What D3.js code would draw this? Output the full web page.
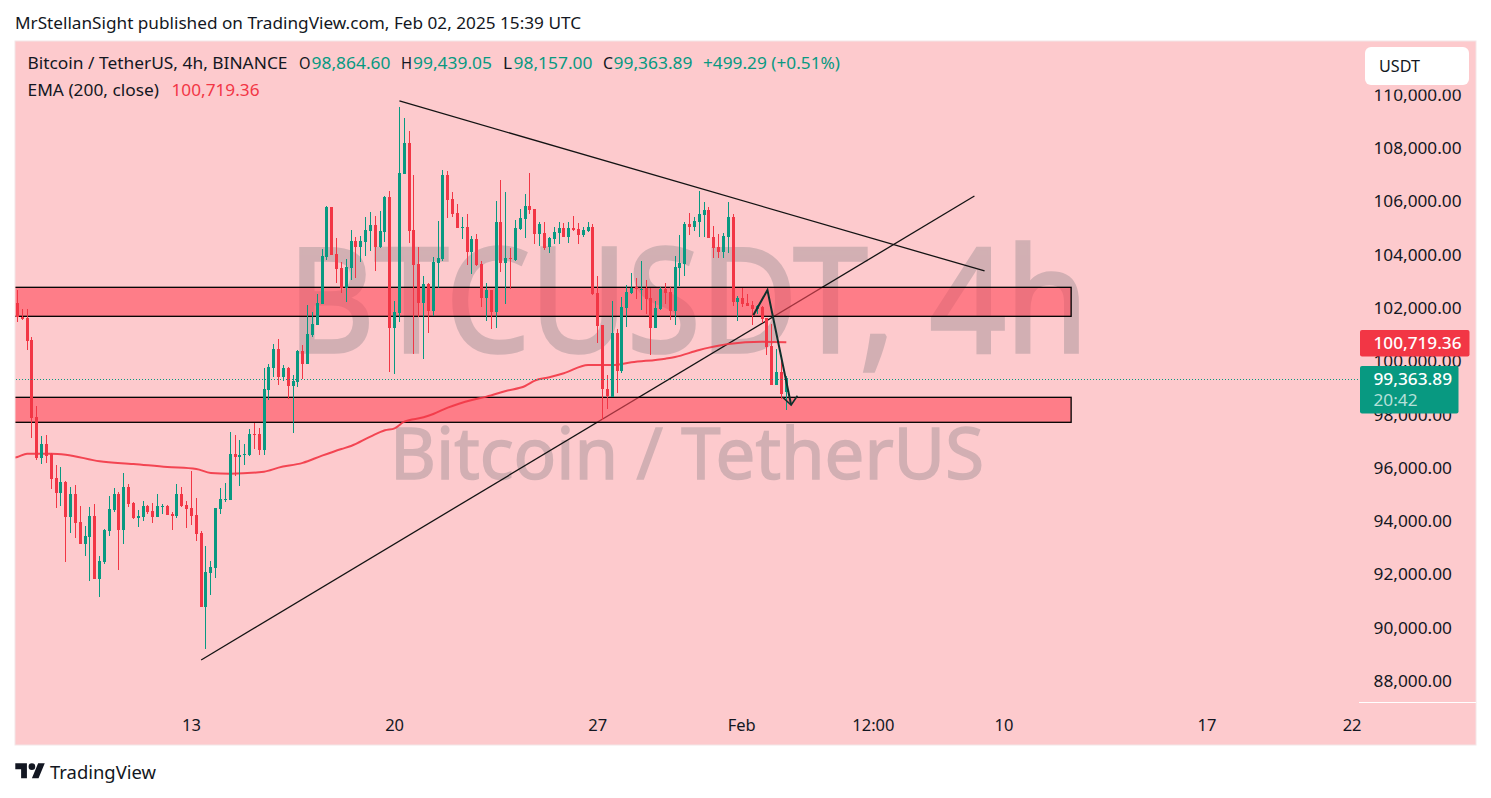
<!DOCTYPE html>
<html><head><meta charset="utf-8">
<script src="https://cdn.jsdelivr.net/npm/d3@7/dist/d3.min.js"></script>
<style>html,body{margin:0;padding:0;background:#fff;overflow:hidden}svg{display:block}text{font-family:"Noto Sans",sans-serif}</style>
</head><body><svg id="c" width="1491" height="798"></svg>
<script>
// ---- data ----
const startDate = "2025-01-07T00:00:00Z", lastDate = "2025-02-02T12:00:00Z";
const opens = [102204,101654,101641,100803,97912,96373,96911,96523,95622,95059,
95485,94158,95022,93971,93145,93407,94196,91831,92469,93633,
94421,95022,93670,95284,94684,94121,94158,94571,94383,94158,
94534,94571,94271,94196,95022,94609,94496,94233,93558,90780,
92056,92244,94459,94796,94796,96523,96411,96486,96486,97274,
97274,96673,98926,99752,100465,99414,99752,99076,99226,100390,
99902,100991,101366,102154,103919,105796,104031,103506,102755,103506,
104519,104294,104482,104895,105120,104294,104857,106171,101253,101817,
107034,108198,104932,103656,102192,102905,101892,103693,103844,106997,
106096,105570,105007,105045,104106,104594,103656,102380,102680,101854,
105233,103693,103881,103806,104970,105345,105833,105720,104782,104819,
104294,104594,104819,105007,104669,105007,104970,104744,104894,105045,
102567,101366,98981,98663,101065,99639,102004,102567,102780,102680,
102755,102379,101253,101966,102717,102605,101891,103506,103656,105157,
105045,105232,105495,105683,104669,104294,104106,104669,105420,102229,
102379,102192,102117,101966,102042,101628,100577,99113,99601,98864.6];
const highs = [102680,101966,101966,100903,98325,97199,97236,96573,96110,96035,
95510,95284,95359,94571,93820,94534,94646,92694,93708,94946,
95247,95097,95810,95397,94721,94421,94759,94609,94684,95022,
94646,94600,94346,95397,95284,94759,95885,94871,93633,93069,
92507,94496,95247,95434,97349,97236,97049,96899,97462,97687,
97499,99752,99902,100653,100840,99864,99789,99489,100420,100615,
102117,101854,102530,104219,105833,105810,104632,103731,103844,104932,
104669,104707,105420,105608,105458,105645,106190,106396,102267,109550,
109137,108649,106997,104294,103205,102943,103919,105270,107185,107147,
106359,105908,105420,105533,104707,104782,103768,102943,102690,106021,
106809,106359,104256,105308,105720,106284,107072,105720,105232,105232,
104669,105045,105232,105195,105232,105458,105195,105045,105232,105157,
103205,101380,99489,102267,101216,102417,102867,103318,103130,103768,
103055,102755,102267,102792,102942,102792,103956,104744,105232,105570,
105420,106396,105983,105795,105100,104782,104819,105983,105533,102454,
102755,102530,102267,102117,102079,101640,101403,100465,100052,99439.05];
const lows = [101491,101553,100427,97136,96298,96160,96198,95209,94496,94571,
92469,93570,93370,93130,92694,91756,91820,91155,92394,93445,
94346,92169,93145,94534,94083,93783,94008,94271,93933,94150,
94271,94220,93670,94121,94534,93745,93858,93257,90770,89203,
91230,91868,94271,94721,94780,95697,95322,96110,96448,96711,
96486,96486,98550,99414,99113,99264,98588,97311,99039,99339,
99890,100916,101350,102140,103806,103985,102943,102567,102229,103055,
103130,103731,103956,104144,103393,104256,104482,99602,99527,101479,
107020,104444,100277,101666,100090,101066,101704,102755,103769,105383,
105420,105000,104594,103618,103280,103581,102042,101516,101216,101253,
103356,102154,102717,103769,104932,104632,105533,104407,104331,104181,
104069,104406,104406,104660,104444,104894,104406,104669,104857,102492,
100690,97800,98212,98650,98813,99564,101291,102530,102342,101929,
101779,100240,101240,101929,102154,101554,101366,102830,103205,104744,
104894,104669,104669,104620,103881,103881,103881,104069,102079,101516,
102042,102070,101366,101779,101441,100240,99100,99100,98588,98157];
const closes = [101654,101578,100765,97887,96373,96911,96460,95585,95072,95485,
94158,95022,93933,93145,93445,94196,91831,92507,93670,94459,
95022,93670,95284,94646,94121,94196,94571,94346,94158,94571,
94571,94233,94196,95022,94571,94459,94196,93520,90780,92093,
92281,94496,94834,94834,96523,96411,96486,96523,97274,97236,
96673,98963,99789,100465,99414,99752,99076,99264,100390,99902,
101028,101404,102192,103956,105796,103994,103468,102755,103543,104519,
104294,104519,104932,105120,104294,104895,106171,101253,101854,107072,
108198,104895,103618,102192,102905,101892,103731,103881,106997,106058,
105533,105007,105045,104106,104594,103618,102380,102680,101854,105233,
103693,103881,103844,105007,105383,105833,105683,104782,105157,104256,
104632,104857,105007,104669,105007,104932,104744,104932,105045,102530,
101328,98963,98700,101065,99639,102042,102605,102755,102717,102717,
102342,101253,102004,102717,102567,101891,103543,103693,105157,105045,
105270,105533,105683,104632,104256,104106,104707,105420,102229,102379,
102154,102079,101966,102079,101591,100540,99113,99601,98776,99363.89];
const emaIndex = [-1,0,2,7,10,17,24,31,37,40,44,51,54,59,63,67,69,73,76,78,80,84,86,89,94,97,101,105,107,110,113,118,123,127,134,136,141,143,147,154,159];
const emaValues = [96380,96411,96536,96536,96498,96248,96148,96035,95960,95810,95785,95860,96010,96190,96461,96711,96824,97174,97412,97487,97737,97900,98025,98263,98551,98676,98889,99076,99276,99402,99552,99864,99864,99964,100102,100165,100427,100515,100653,100740,100719.36];
const yTicks = [110000,108000,106000,104000,102000,100000,98000,96000,94000,92000,90000,88000];
const xTickDates = ["2025-01-13","2025-01-20","2025-01-27","2025-02-01","2025-02-05T12:00:00Z","2025-02-10","2025-02-17","2025-02-22"];
const xTickLabels = ["13","20","27","Feb","12:00","10","17","22"];
const upperBand = [102780,101691];
const lowerBand = [98650,97712];
const bandIndex = [-1,217.9];
const fallingLineIndex = [79,200], fallingLinePrice = [109775,103393];
const risingLineIndex = [38,197.9], risingLinePrice = [88790,106208];
const arrowIndex = [152.2,155.1,160], arrowPrice = [101741,102680,98363];
const headIndex = [158.2,160,161.3], headPrice = [98663,98363,98711];
const lastClose = 99363.89, emaLast = 100719.36;

// ---- scales ----
const svg = d3.select("#c");
const H4 = 4*3600e3, t0 = +new Date(startDate);
const dateAt = i => new Date(t0 + i*H4);
const x = d3.scaleUtc().domain([new Date(startDate), new Date(lastDate)]).range([17.4,786.3]);
const y = d3.scaleLinear().domain([110000,88000]).range([95,681]);
const xi = i => x(dateAt(i));
const GREEN="#089981", RED="#f23645", INK="#131722", PANEL="#fdcacd";

function label(parent,s,px,py,w,o={}){
  const t=parent.append("text").attr("x",px).attr("y",py).attr("dy",".36em").text(s)
    .attr("font-size",o.size||16.5).attr("fill",o.fill||INK);
  if(w) t.attr("textLength",w).attr("lengthAdjust","spacingAndGlyphs");
  if(o.weight) t.attr("font-weight",o.weight);
  return t;
}

// ---- panel ----
svg.append("rect").attr("x",15).attr("y",41).attr("width",1461).attr("height",704).attr("fill",PANEL).attr("stroke","#f3e6e7").attr("stroke-width",1);
svg.append("defs").append("clipPath").attr("id","pane").append("rect").attr("x",15.5).attr("y",42).attr("width",1344).attr("height",660);
const pane = svg.append("g").attr("clip-path","url(#pane)");

// watermark
const wm = pane.append("g").attr("opacity",.3).attr("fill","#717379").attr("stroke","#717379");
wm.append("text").attr("x",288).attr("y",352).text("BTCUSDT, 4h").attr("font-size",145).attr("stroke-width",3.5).attr("textLength",800).attr("lengthAdjust","spacingAndGlyphs");
wm.append("text").attr("x",390).attr("y",479).text("Bitcoin / TetherUS").attr("font-size",72).attr("stroke-width",1.5).attr("textLength",594).attr("lengthAdjust","spacingAndGlyphs");

const lineGen = d3.line().x(d=>xi(d[0])).y(d=>y(d[1]));
pane.append("path").attr("d",lineGen(d3.zip(risingLineIndex,risingLinePrice))).attr("fill","none").attr("stroke","#131313").attr("stroke-width",1.3);

// bands
[upperBand,lowerBand].forEach(b=>{
  pane.append("rect").attr("x",xi(bandIndex[0])).attr("width",xi(bandIndex[1])-xi(bandIndex[0]))
    .attr("y",y(b[0])).attr("height",y(b[1])-y(b[0]))
    .attr("fill","rgba(255,74,90,.6)").attr("stroke","#000").attr("stroke-width",1.3);
});

// dotted price line
svg.append("line").attr("x1",16).attr("x2",1360).attr("y1",Math.round(y(lastClose))+1.5).attr("y2",Math.round(y(lastClose))+1.5)
  .attr("stroke",GREEN).attr("stroke-width",1).attr("stroke-dasharray","1 2");

// EMA
pane.append("path").attr("d",d3.line().curve(d3.curveMonotoneX).x(d=>xi(d[0])).y(d=>y(d[1]))(d3.zip(emaIndex,emaValues)))
  .attr("fill","none").attr("stroke",RED).attr("stroke-width",2).attr("opacity",.9);

// candles
const candles = d3.range(opens.length).map(i=>({i,o:opens[i],h:highs[i],l:lows[i],c:closes[i]}));
const cg = pane.append("g").attr("shape-rendering","crispEdges");
const sel = cg.selectAll("g").data(candles).join("g").attr("fill",d=>d.c>=d.o?GREEN:RED);
sel.append("rect").attr("x",d=>Math.floor(xi(d.i))).attr("width",1).attr("y",d=>y(d.h)).attr("height",d=>y(d.l)-y(d.h));
sel.append("rect").attr("x",d=>Math.floor(xi(d.i))-1).attr("width",3).attr("y",d=>y(Math.max(d.o,d.c))).attr("height",d=>Math.max(1,y(Math.min(d.o,d.c))-y(Math.max(d.o,d.c))));

// falling trend line & arrow
pane.append("path").attr("d",lineGen(d3.zip(fallingLineIndex,fallingLinePrice))).attr("fill","none").attr("stroke","#131313").attr("stroke-width",1.3);
pane.append("path").attr("d",lineGen(d3.zip(arrowIndex,arrowPrice))).attr("fill","none").attr("stroke","#10302c").attr("stroke-width",2);
pane.append("path").attr("d",lineGen(d3.zip(headIndex,headPrice))).attr("fill","none").attr("stroke","#10302c").attr("stroke-width",1.6);

// y axis
const yAxis = svg.append("g");
yAxis.selectAll("text").data(yTicks).join("text")
  .attr("x",1373.5).attr("y",d=>y(d)).attr("dy",".36em").attr("font-size",16.5).attr("fill",INK)
  .text(d3.format(",.2f")).attr("textLength",d=>d>=100000?88:78.5).attr("lengthAdjust","spacingAndGlyphs");
svg.append("line").attr("x1",1359).attr("x2",1476).attr("y1",702.5).attr("y2",702.5).attr("stroke","#fff").attr("stroke-width",1);

// x axis
svg.append("g").selectAll("text").data(xTickDates).join("text")
  .attr("x",d=>x(new Date(d.length>10?d:d+"T00:00:00Z"))-(d==="2025-02-01"?1:0)).attr("y",725).attr("dy",".36em")
  .attr("text-anchor","middle").attr("font-size",16.5).attr("fill",INK).text((d,i)=>xTickLabels[i]);

// USDT button (with the strip below it that hides the top of the first axis label)
svg.append("rect").attr("x",1365).attr("y",84).attr("width",104).attr("height",5.5).attr("fill",PANEL);
svg.append("rect").attr("x",1365).attr("y",47).attr("width",104).attr("height",38).attr("rx",6).attr("fill","#fff");
label(svg,"USDT",1379,66,41);

// price tags
svg.append("rect").attr("x",1360).attr("y",330).attr("width",109.5).attr("height",26.5).attr("rx",2).attr("fill",RED);
label(svg,d3.format(",.2f")(emaLast),1373.5,343.5,88,{fill:"#fff",weight:500});
svg.append("rect").attr("x",1360).attr("y",366).attr("width",98.5).attr("height",47.5).attr("rx",2).attr("fill",GREEN);
label(svg,d3.format(",.2f")(lastClose),1373.5,379,78.5,{fill:"#fff",weight:500});
label(svg,"20:42",1373.5,400,44,{fill:"#b5e0d9"});

// title & legend
label(svg,"MrStellanSight published on TradingView.com, Feb 02, 2025 15:39 UTC",15,23,566);
label(svg,"Bitcoin / TetherUS, 4h, BINANCE",27.5,63.5,260);
label(svg,"O",299,63.5,11.5);
label(svg,"98,864.60",311.5,63.5,79,{fill:GREEN});
label(svg,"H",401,63.5,11);
label(svg,"99,439.05",413,63.5,79,{fill:GREEN});
label(svg,"L",503,63.5,9);
label(svg,"98,157.00",513.5,63.5,79,{fill:GREEN});
label(svg,"C",603,63.5,10);
label(svg,"99,363.89",613.5,63.5,79,{fill:GREEN});
label(svg,"+499.29 (+0.51%)",703,63.5,137,{fill:GREEN});
label(svg,"EMA (200, close)",27.5,90,131.5);
label(svg,d3.format(",.2f")(emaLast),171.5,90,88,{fill:RED});

// logo
const logo = svg.append("g").attr("transform","translate(15.3,760) scale(.83)").attr("fill",INK);
logo.append("path").attr("d","M14 22H7V11H0V4h14v18zM28 22h-8l7.5-18h8L28 22z");
logo.append("circle").attr("cx",20).attr("cy",8).attr("r",4);
label(svg,"TradingView",50,772.5,106,{size:18.5});
</script></body></html>
